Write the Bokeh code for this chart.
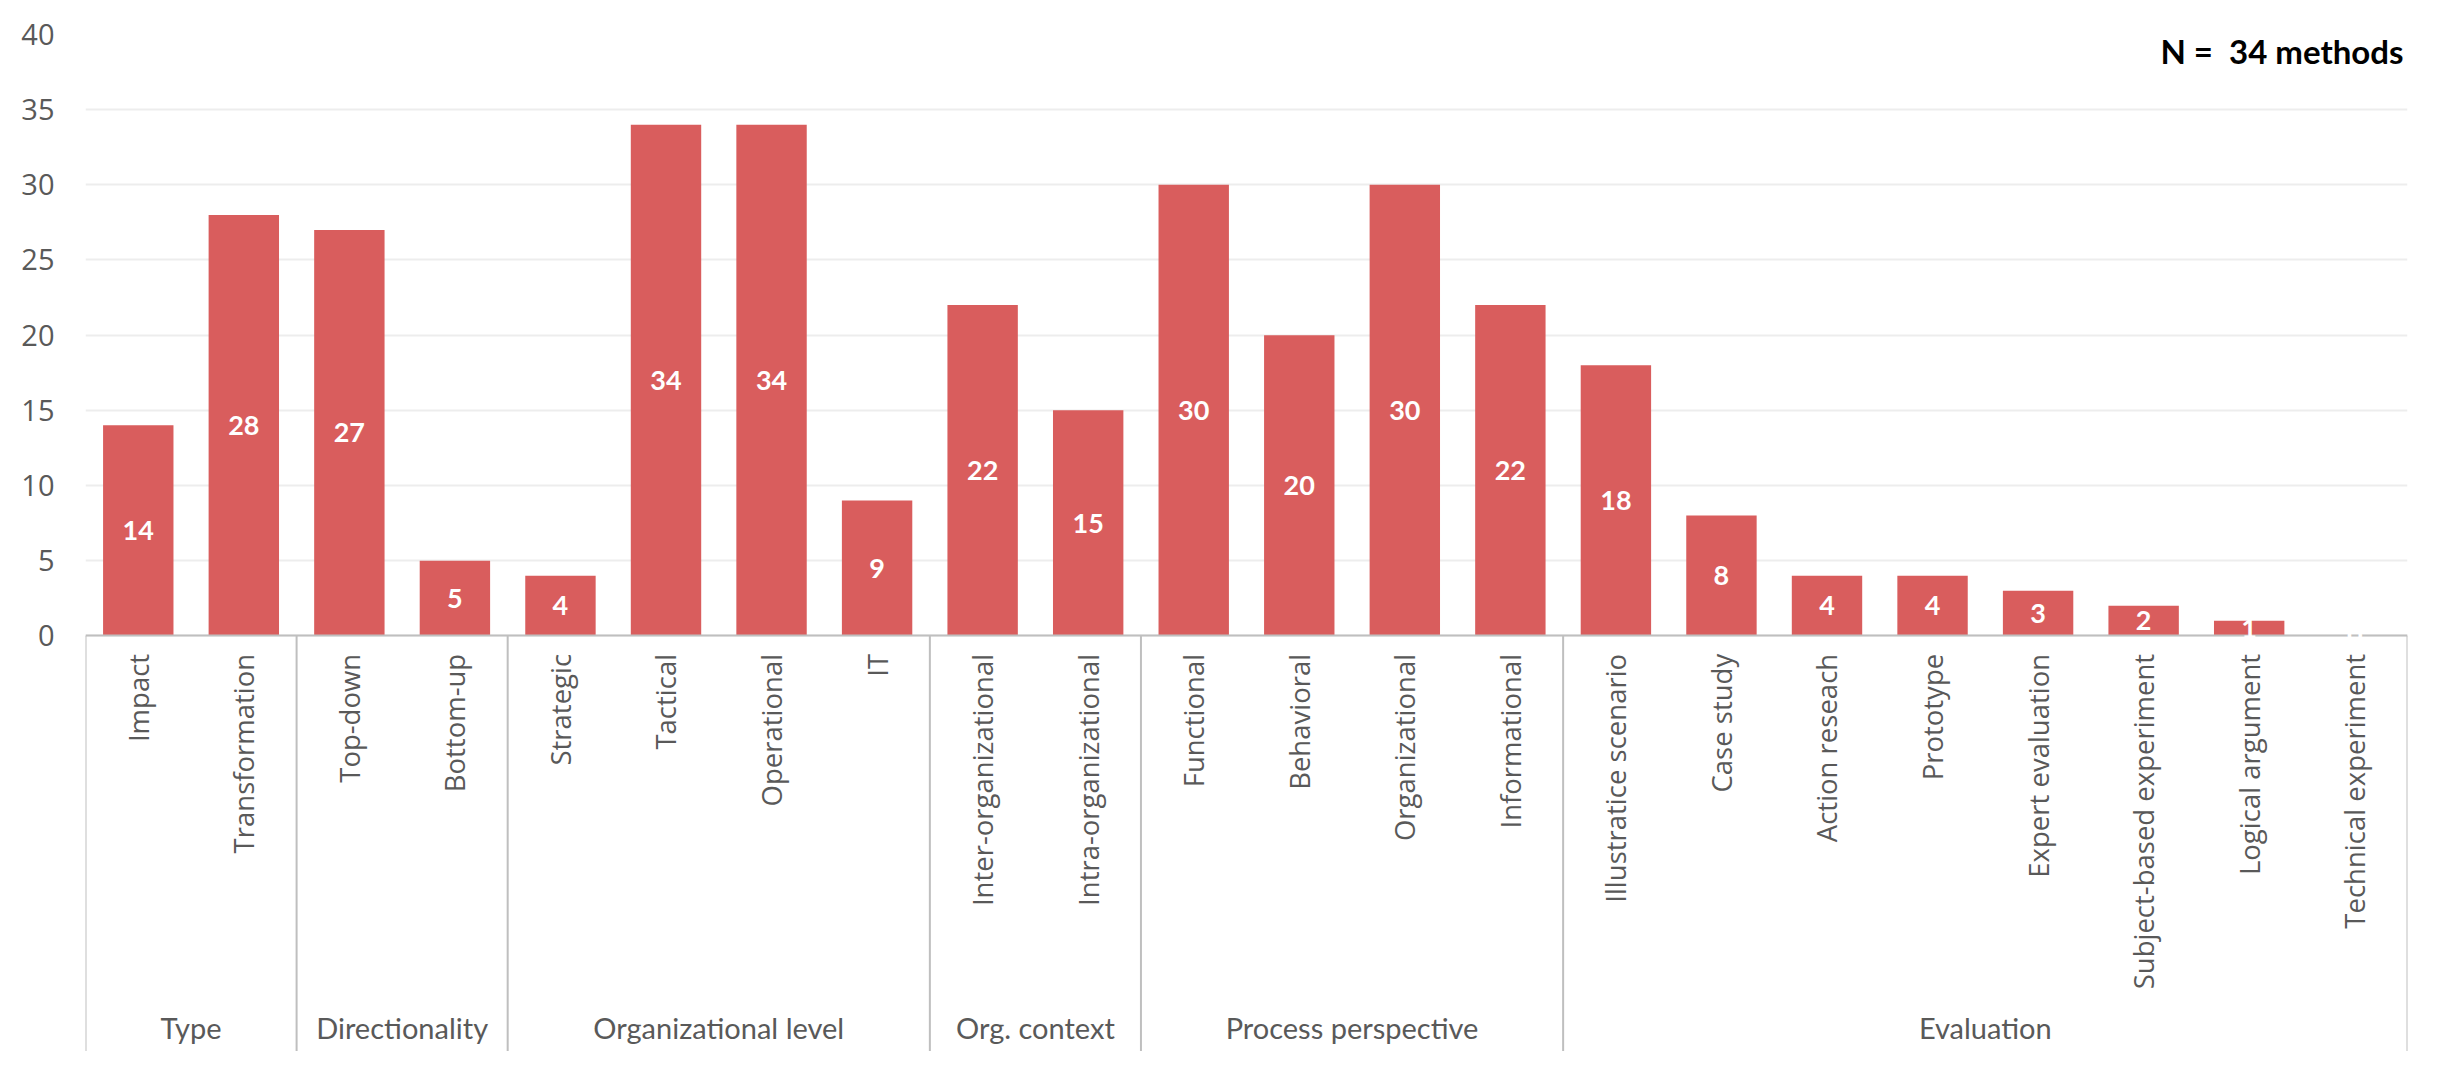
import math
import numpy as np
from bokeh.plotting import figure
from bokeh.models import ColumnDataSource, FactorRange, Range1d, FixedTicker, Label
from bokeh.core.properties import value
from bokeh.embed import file_html
from bokeh.resources import INLINE

# ---------------- data ----------------
groups = ["Type", "Directionality", "Organizational level", "Org. context",
          "Process perspective", "Evaluation"]
group_sizes = [2, 2, 4, 2, 4, 8]
categories = ["Impact", "Transformation",
              "Top-down", "Bottom-up",
              "Strategic", "Tactical", "Operational", "IT",
              "Inter-organizational", "Intra-organizational",
              "Functional", "Behavioral", "Organizational", "Informational",
              "Illustratice scenario", "Case study", "Action reseach", "Prototype",
              "Expert evaluation", "Subject-based experiment", "Logical argument",
              "Technical experiment"]
values = [14, 28, 27, 5, 4, 34, 34, 9, 22, 15, 30, 20, 30, 22,
          18, 8, 4, 4, 3, 2, 1, 0]
y_ticks = [0, 5, 10, 15, 20, 25, 30, 35, 40]
note_text = "N =\u00a0 34 methods"

# ---------------- build ----------------
cat_groups = [g for g, n in zip(groups, group_sizes) for _ in range(n)]
factors = list(zip(cat_groups, categories))

src = ColumnDataSource(dict(
    x=factors,
    top=values,
    mid=[v / 2 for v in values],
    label=[str(v) for v in values],
))

Y_TOP = 40
Y_BOTTOM = -27.65   # room below the baseline for the category axis

x_range = FactorRange(factors=factors, factor_padding=0, group_padding=0,
                      subgroup_padding=0, range_padding=0)

p = figure(x_range=x_range, y_range=Range1d(Y_BOTTOM, Y_TOP),
           width=2424, height=1051, output_backend="svg", toolbar_location=None,
           min_border_left=85, min_border_right=17, min_border_top=34,
           min_border_bottom=0, outline_line_color=None,
           background_fill_color="white", border_fill_color="white")

BAR = "#D95D5D"
GREY_TXT = "#595959"
AXIS_GREY = "#BFBFBF"

p.vbar(x="x", top="top", width=0.667, source=src,
       fill_color=BAR, line_color=None)

# group separators (at group boundaries, incl. outer edges)
bounds = np.concatenate([[0], np.cumsum(group_sizes)]).astype(float)
p.segment(x0=bounds, y0=[0] * len(bounds), x1=bounds, y1=[Y_BOTTOM] * len(bounds),
          line_color=AXIS_GREY, line_width=2)

# value labels
p.text(x="x", y="mid", text="label", source=src, text_color="white",
       text_font=value("Lato"), text_font_style="bold", text_font_size="27px",
       text_align="center", text_baseline="middle", level="overlay")

# y axis
ya = p.yaxis[0]
ya.ticker = FixedTicker(ticks=y_ticks)
ya.axis_line_color = None
ya.major_tick_line_color = None
ya.minor_tick_line_color = None
ya.major_tick_out = 0
ya.major_tick_in = 0
ya.major_label_standoff = 31
ya.major_label_text_font = "Open Sans"
ya.major_label_text_font_size = "29px"
ya.major_label_text_color = GREY_TXT

p.ygrid.grid_line_color = "#EDEDED"
p.ygrid.grid_line_width = 2
p.xgrid.grid_line_color = None

# x axis (categorical, nested)
xa = p.xaxis[0]
xa.fixed_location = 0
xa.axis_line_color = AXIS_GREY
xa.axis_line_width = 2
xa.major_tick_line_color = None
xa.minor_tick_line_color = None
xa.major_tick_out = 0
xa.major_tick_in = 0
xa.major_label_orientation = math.pi / 2
xa.major_label_standoff = 18
xa.major_label_text_font = "Open Sans"
xa.major_label_text_font_size = "27.5px"
xa.major_label_text_color = GREY_TXT
xa.group_text_font = "Lato"
xa.group_text_font_style = "normal"
xa.group_text_font_size = "29px"
xa.group_text_color = GREY_TXT
xa.group_label_orientation = "horizontal"
xa.separator_line_color = None

note = Label(x=len(factors), y=Y_TOP, x_units="data", y_units="data",
             text=note_text, text_align="right", text_baseline="middle",
             x_offset=4, y_offset=-16, text_font="Lato", text_font_style="bold",
             text_font_size="33px", text_color="black",
             background_fill_color="white")
try:
    note.padding = dict(left=25, right=8, top=6, bottom=6)
except Exception:
    pass
p.add_layout(note)

open("out.html", "w").write(file_html(p, INLINE))
